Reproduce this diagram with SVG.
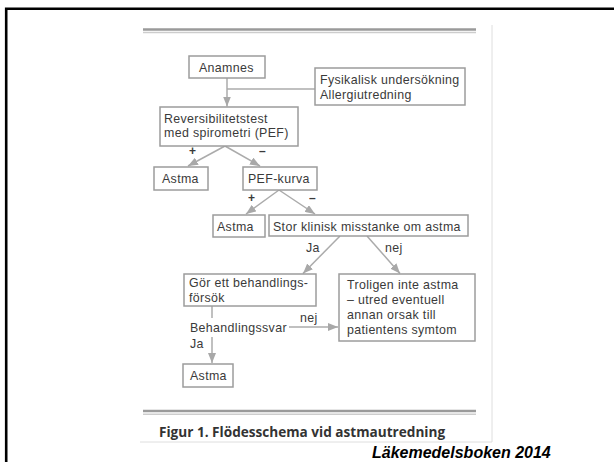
<svg xmlns="http://www.w3.org/2000/svg" width="614" height="462" viewBox="0 0 614 462">
<defs>
<marker id="ah" markerUnits="userSpaceOnUse" markerWidth="10" markerHeight="8" refX="10" refY="4" orient="auto">
<path d="M0,0 L10,4 L0,8 z" fill="#a8a8a8"/>
</marker>
<style>
.box{fill:#fff;stroke:#9c9c9c;stroke-width:1.5}
.t{font-family:"Liberation Sans",Arial,sans-serif;font-size:12.4px;letter-spacing:0.35px;fill:#3a3a3a}
.c{stroke:#ababab;stroke-width:1.5;fill:none}
.a{stroke:#ababab;stroke-width:1.5;fill:none;marker-end:url(#ah)}
.s{font-family:"Liberation Sans",Arial,sans-serif;font-size:12px;font-weight:bold;fill:#3a3a3a}
</style>
</defs>
<rect x="0" y="0" width="614" height="462" fill="#fff"/>
<path d="M6.2,470 V8.7 H620" fill="none" stroke="#000" stroke-width="2.6"/>
<path d="M492,25 V442 H140" fill="none" stroke="#dedede" stroke-width="1"/>
<g id="rules">
<line x1="143" y1="29.5" x2="476" y2="29.5" stroke="#9a9a9a" stroke-width="2.5"/>
<line x1="143" y1="32.6" x2="476" y2="32.6" stroke="#cdcdcd" stroke-width="1.5"/>
<line x1="143" y1="411" x2="476" y2="411" stroke="#9a9a9a" stroke-width="2.5"/>
<line x1="143" y1="414.2" x2="476" y2="414.2" stroke="#cdcdcd" stroke-width="1.5"/>
</g>
<g id="connectors">
<line class="a" x1="227" y1="78" x2="227" y2="106.5"/>
<line class="c" x1="227" y1="89" x2="315" y2="89"/>
<line class="a" x1="225" y1="146" x2="188" y2="166"/>
<line class="a" x1="225" y1="146" x2="260" y2="166"/>
<line class="a" x1="279" y1="190" x2="246" y2="214"/>
<line class="a" x1="279" y1="190" x2="315" y2="214"/>
<line class="a" x1="340" y1="236" x2="303" y2="273.5"/>
<line class="a" x1="367" y1="236" x2="400" y2="273.5"/>
<line class="c" x1="212" y1="306" x2="212" y2="318"/>
<line class="a" x1="212" y1="337" x2="212" y2="363"/>
<line class="a" x1="289" y1="327" x2="338" y2="327"/>
<text class="s" x="189" y="155">+</text>
<text class="s" x="259" y="155">–</text>
<text class="s" x="248" y="202">+</text>
<text class="s" x="309" y="202">–</text>
<text class="t" x="306" y="252">Ja</text>
<text class="t" x="385" y="252">nej</text>
<text class="t" x="300" y="322">nej</text>
<text class="t" x="190" y="332">Behandlingssvar</text>
<text class="t" x="190" y="347.5">Ja</text>
</g>
<g id="anamnes">
<rect class="box" x="189" y="56" width="76" height="22"/>
<text class="t" x="199" y="72">Anamnes</text>
</g>
<g id="fysikalisk">
<rect class="box" x="315" y="68" width="150" height="37"/>
<text class="t" x="320" y="84">Fysikalisk undersökning</text>
<text class="t" x="320" y="98.5">Allergiutredning</text>
</g>
<g id="reversibilitet">
<rect class="box" x="160" y="107" width="138" height="39"/>
<text class="t" x="164" y="122.5">Reversibilitetstest</text>
<text class="t" x="164" y="137">med spirometri (PEF)</text>
</g>
<g id="astma1">
<rect class="box" x="154" y="167" width="54" height="23"/>
<text class="t" x="162" y="183">Astma</text>
</g>
<g id="pefkurva">
<rect class="box" x="243" y="167" width="74" height="23"/>
<text class="t" x="248" y="183">PEF-kurva</text>
</g>
<g id="astma2">
<rect class="box" x="213" y="215" width="52" height="22"/>
<text class="t" x="217" y="231">Astma</text>
</g>
<g id="stor">
<rect class="box" x="269" y="215" width="199" height="21"/>
<text class="t" x="273" y="231">Stor klinisk misstanke om astma</text>
</g>
<g id="behandlingsforsok">
<rect class="box" x="184" y="274" width="132" height="32"/>
<text class="t" x="189" y="287">Gör ett behandlings-</text>
<text class="t" x="189" y="302">försök</text>
</g>
<g id="troligen">
<rect class="box" x="339" y="274" width="136" height="67"/>
<text class="t" x="347" y="289">Troligen inte astma</text>
<text class="t" x="347" y="304">– utred eventuell</text>
<text class="t" x="347" y="319">annan orsak till</text>
<text class="t" x="347" y="334">patientens symtom</text>
</g>
<g id="astma3">
<rect class="box" x="183" y="364" width="50" height="23"/>
<text class="t" x="190" y="380">Astma</text>
</g>
<text x="159" y="437" font-family="'Open Sans','Noto Sans',sans-serif" font-size="13.6" font-weight="bold" fill="#333">Figur 1. Flödesschema vid astmautredning</text>
<text x="372" y="458" font-family="'Liberation Sans',Arial,sans-serif" font-size="16" font-weight="bold" font-style="italic" fill="#000">Läkemedelsboken 2014</text>
</svg>
